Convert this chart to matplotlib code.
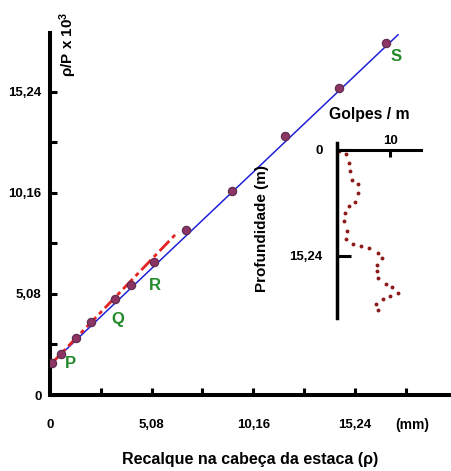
import matplotlib.pyplot as plt

plt.rcParams['font.family'] = ['Liberation Sans', 'DejaVu Sans']
plt.rcParams['font.weight'] = 'bold'
plt.rcParams['mathtext.fontset'] = 'custom'
plt.rcParams['mathtext.bf'] = 'Liberation Sans:bold'
plt.rcParams['mathtext.rm'] = 'Liberation Sans:bold'
plt.rcParams['mathtext.default'] = 'bf'

# recalque x rho/P (pontos medidos)
rec = [0.1, 0.55, 1.3, 2.05, 3.25, 4.05, 5.2, 6.8, 9.1, 11.75, 14.45, 16.8]
rho_p = [1.6, 2.05, 2.85, 3.65, 4.8, 5.55, 6.7, 8.3, 10.25, 13.0, 15.45, 17.7]

# retas ajustadas
blue_x = [0.35, 17.4]
blue_y = [1.85, 18.1]
red_x = [0.0, 6.4]
red_y = [1.5, 8.2]

# letras P Q R S
lab_txt = ['P', 'Q', 'R', 'S']
lab_x = [1.0, 3.4, 5.25, 17.3]
lab_y = [1.6, 3.8, 5.5, 17.0]

ticks = [0, 2.54, 5.08, 7.62, 10.16, 12.70, 15.24, 17.78]
xticklab = ['0', '', '5,08', '', '10,16', '', '15,24', '']
yticks = [0, 2.54, 5.08, 7.62, 10.16, 12.70, 15.24]
yticklab = ['0', '', '5,08', '', '10,16', '', '15,24']

# sondagem: golpes/m x profundidade
golpes = [0.5, 1.75, 2.3, 2.5, 2.85, 4.05, 4.05, 3.5, 2.25, 1.55, 1.3, 1.9, 1.75,
          3.0, 4.6, 6.1, 7.8, 8.45, 7.5, 7.6, 7.8, 9.25, 10.3, 11.4, 10.0, 8.6,
          7.4, 7.7]
prof = [0.1, 0.6, 1.9, 3.05, 4.3, 4.95, 6.15, 7.45, 8.05, 9.1, 10.3, 11.6, 12.8,
        13.5, 13.9, 14.1, 14.8, 15.6, 16.5, 17.5, 18.5, 19.3, 19.7, 20.6, 21.0,
        21.5, 22.2, 23.0]

fig = plt.figure(figsize=(4.52, 4.71), dpi=100)
ax = fig.add_axes([50/452, 76/471, 402/452, 362/471])

ax.plot(blue_x, blue_y, color='#2020d8', lw=1.1, zorder=2)
ax.plot(red_x, red_y, color='#e52222', lw=2, linestyle=(0, (5, 1.5, 1.5, 1.5)), zorder=3)
ax.plot(rec, rho_p, 'o', ms=6, color='#8c3565', mec='#5b2a4c', mew=0.8, zorder=4)
for t, x, y in zip(lab_txt, lab_x, lab_y):
    ax.text(x, y, t, color='#238a2a', fontsize=12, fontweight='bold', ha='center', va='center')

ax.set_xlim(0, 20.1)
ax.set_ylim(0, 18.19)
for s in ['top', 'right']:
    ax.spines[s].set_visible(False)
for s in ['left', 'bottom']:
    ax.spines[s].set_linewidth(2.9)
ax.set_xticks(ticks)
ax.set_xticklabels(xticklab)
ax.set_yticks(yticks)
ax.set_yticklabels(yticklab)
ax.tick_params(axis='x', direction='in', length=5, width=2.2, pad=17, labelsize=9.5)
ax.tick_params(axis='y', direction='in', length=5, width=2.2, pad=6, labelsize=9.5)

ax.set_xlabel('Recalque na cabeça da estaca (ρ)', fontsize=11.5, fontweight='bold')
ax.xaxis.set_label_coords(0.499, -0.157)
ax.text(0.90, -0.083, '(mm)', transform=ax.transAxes, fontsize=10,
        fontweight='bold', ha='center', va='center')
ax.text(0.045, 0.97, r'ρ/P x 10$^{3}$', transform=ax.transAxes, fontsize=11,
        fontweight='bold', rotation=90, ha='center', va='center')

# grafico da sondagem
ax2 = fig.add_axes([336.7/452, 153/471, 84.3/452, 175/471])
ax2.patch.set_visible(False)
ax2.plot(golpes, prof, 'o', ms=2.8, color='#8b1a1a', mew=0)
ax2.set_xlim(0, 15.8)
ax2.set_ylim(24.2, -1.0)
ax2.spines['right'].set_visible(False)
ax2.spines['bottom'].set_visible(False)
ax2.spines['top'].set_position(('data', 0))
ax2.spines['top'].set_linewidth(2.2)
ax2.spines['left'].set_linewidth(2.5)
ax2.xaxis.tick_top()
ax2.set_xticks([10])
ax2.set_xticklabels(['10'])
ax2.set_yticks([0, 15.24])
ax2.set_yticklabels(['0', '15,24'])
ax2.tick_params(axis='x', direction='in', length=5, width=2.2, pad=2, labelsize=9.5)
ax2.tick_params(axis='y', direction='in', length=10, width=2.2, pad=10, labelsize=9.5)
ax2.set_xlabel('Golpes / m', fontsize=11.3, fontweight='bold')
ax2.xaxis.set_label_position('top')
ax2.xaxis.set_label_coords(0.39, 1.135)
ax2.set_ylabel('Profundidade (m)', fontsize=11, fontweight='bold')
ax2.yaxis.set_label_coords(-0.80, 0.51)

fig.savefig('out.png', dpi=100)
